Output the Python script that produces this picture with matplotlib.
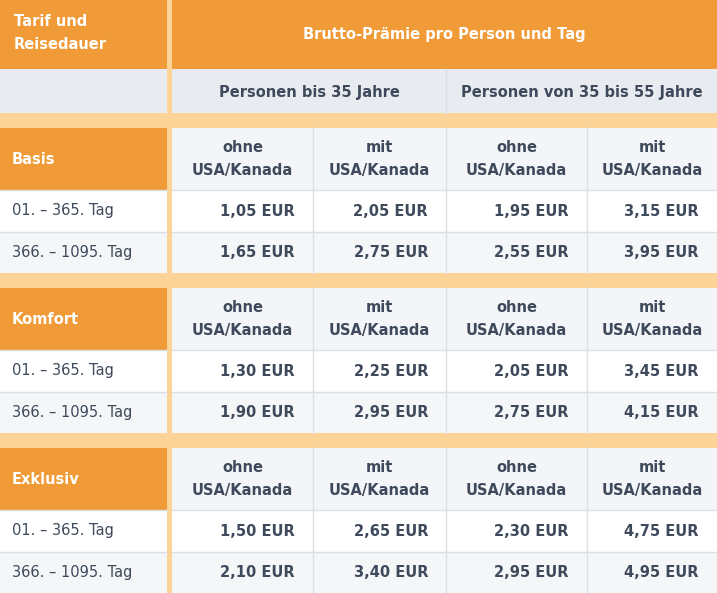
import matplotlib.pyplot as plt
from matplotlib.patches import Rectangle

tarife = ["Basis", "Komfort", "Exklusiv"]
dauer = ["01. – 365. Tag", "366. – 1095. Tag"]
spalten = ["ohne\nUSA/Kanada", "mit\nUSA/Kanada", "ohne\nUSA/Kanada", "mit\nUSA/Kanada"]
gruppen = ["Personen bis 35 Jahre", "Personen von 35 bis 55 Jahre"]
preise = {
    "Basis": [["1,05 EUR", "2,05 EUR", "1,95 EUR", "3,15 EUR"],
              ["1,65 EUR", "2,75 EUR", "2,55 EUR", "3,95 EUR"]],
    "Komfort": [["1,30 EUR", "2,25 EUR", "2,05 EUR", "3,45 EUR"],
                ["1,90 EUR", "2,95 EUR", "2,75 EUR", "4,15 EUR"]],
    "Exklusiv": [["1,50 EUR", "2,65 EUR", "2,30 EUR", "4,75 EUR"],
                 ["2,10 EUR", "3,40 EUR", "2,95 EUR", "4,95 EUR"]],
}

ORANGE = "#F09B38"
LIGHT = "#FDD497"
GRAY = "#E8EBF0"
SUB = "#F3F5F8"
ALT = "#F5F6F8"
TXT = "#3E4A5C"
LINE = "#DCDFE4"

fig = plt.figure(figsize=(7.17, 5.93), dpi=100)
ax = fig.add_axes([0, 0, 1, 1])
ax.set_xlim(0, 717)
ax.set_ylim(593, 0)
ax.axis("off")

def box(x0, y0, x1, y1, c, edge=None):
    ax.add_patch(Rectangle((x0, y0), x1 - x0, y1 - y0, facecolor=c,
                           edgecolor=edge or "none", lw=1 if edge else 0))

ax.add_patch(Rectangle((0, 0), 717, 593, facecolor=LIGHT, lw=0))
cols = [172, 313, 446, 587, 717]

# header
box(0, 0, 167, 69, ORANGE)
box(172, 0, 717, 69, ORANGE)
ax.text(14, 33, "Tarif und\nReisedauer", color="white", fontsize=10.5, fontweight="bold",
        va="center", linespacing=1.6)
ax.text(444, 34, "Brutto-Prämie pro Person und Tag", color="white", fontsize=10.5,
        fontweight="bold", va="center", ha="center")
box(0, 69, 167, 113, GRAY)
box(172, 69, 717, 113, GRAY)
ax.plot([446, 446], [69, 113], color=LINE, lw=1)
for i, g in enumerate(gruppen):
    xc = (cols[2 * i] + cols[2 * i + 2]) / 2
    ax.text(xc, 92, g, color=TXT, fontsize=10.5, fontweight="bold", ha="center", va="center")

starts = [128, 288, 448]
for t, y0 in zip(tarife, starts):
    box(0, y0, 167, y0 + 62, ORANGE)
    ax.text(12, y0 + 31, t, color="white", fontsize=10.5, fontweight="bold", va="center")
    box(172, y0, 717, y0 + 62, SUB)
    for j, s in enumerate(spalten):
        xc = (cols[j] + cols[j + 1]) / 2
        ax.text(xc, y0 + 31, s, color=TXT, fontsize=10.5, fontweight="bold",
                ha="center", va="center", linespacing=1.6)
    for r, d in enumerate(dauer):
        ry = y0 + 62 + r * 41.5
        c = "white" if r == 0 else ALT
        box(0, ry, 167, ry + 41.5, c)
        box(172, ry, 717, ry + 41.5, c)
        ax.text(12, ry + 21, d, color=TXT, fontsize=10.5, va="center")
        for j, v in enumerate(preise[t][r]):
            ax.text(cols[j + 1] - 18, ry + 21, v, color=TXT, fontsize=10.5,
                    fontweight="bold", ha="right", va="center")
    for x in cols[1:4]:
        ax.plot([x, x], [y0, y0 + 145], color=LINE, lw=1)
    for yy in [y0 + 62, y0 + 103.5]:
        ax.plot([0, 167], [yy, yy], color=LINE, lw=1)
        ax.plot([172, 717], [yy, yy], color=LINE, lw=1)

fig.savefig("out.png", dpi=100)
